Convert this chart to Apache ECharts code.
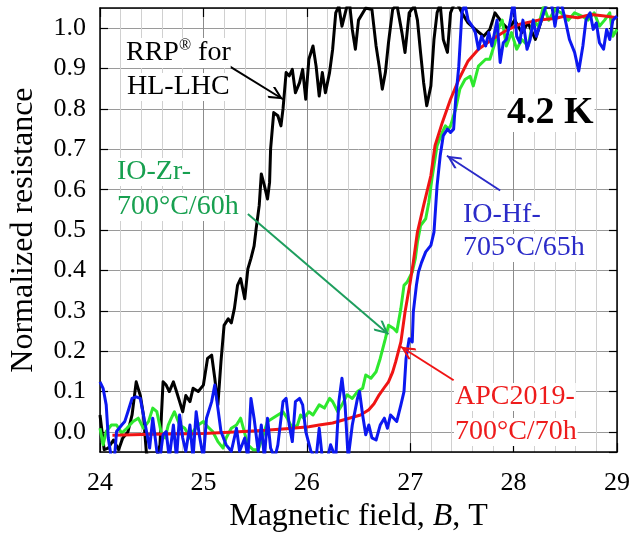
<!DOCTYPE html>
<html><head><meta charset="utf-8">
<script src="https://cdn.jsdelivr.net/npm/echarts@6/dist/echarts.min.js"></script>
<style>html,body{margin:0;padding:0;background:#fff}#c{width:633px;height:538px}</style>
</head><body><div id="c"></div>
<script>
// Magnetic field B (T), normalized resistance
const rrpB = [24.00,24.02,24.04,24.08,24.13,24.18,24.22,24.27,24.31,24.35,24.39,24.42,24.45,24.50,24.55,24.58,24.61,24.64,24.67,24.71,24.74,24.77,24.80,24.83,24.87,24.90,24.95,25.00,25.04,25.08,25.11,25.14,25.17,25.20,25.24,25.27,25.30,25.33,25.36,25.40,25.43,25.46,25.49,25.51,25.54,25.56,25.59,25.62,25.64,25.65,25.68,25.72,25.75,25.77,25.80,25.83,25.86,25.89,25.93,25.96,25.99,26.02,26.06,26.09,26.12,26.15,26.18,26.22,26.25,26.28,26.31,26.34,26.38,26.41,26.44,26.47,26.50,26.57,26.63,26.67,26.70,26.73,26.76,26.79,26.83,26.87,26.92,26.95,26.99,27.04,27.07,27.10,27.13,27.16,27.20,27.23,27.26,27.29,27.32,27.36,27.39,27.44,27.50,27.56,27.63,27.71,27.77,27.82,27.89,27.95,28.01,28.08,28.14,28.21,28.27,28.32];
const rrpR = [0.042,0.0,-0.044,-0.04,-0.02,-0.044,-0.015,0.0,0.042,0.124,0.09,0.042,-0.056,-0.06,-0.06,-0.032,0.124,0.116,0.1,0.124,0.1,0.075,0.05,0.09,0.075,0.108,0.1,0.116,0.182,0.19,0.133,0.067,0.174,0.264,0.28,0.27,0.306,0.363,0.38,0.33,0.404,0.43,0.46,0.503,0.561,0.639,0.61,0.577,0.618,0.701,0.791,0.783,0.758,0.8,0.89,0.882,0.898,0.84,0.865,0.898,0.824,0.923,0.956,0.906,0.832,0.89,0.84,0.89,0.948,1.038,1.055,1.005,1.046,1.07,0.997,0.948,1.02,1.05,1.046,0.956,0.906,0.849,0.89,0.964,1.046,1.06,0.989,0.94,1.038,1.055,1.02,0.94,0.865,0.808,0.857,0.972,1.038,1.06,0.972,0.94,1.038,1.07,1.038,1.013,0.997,0.98,0.997,1.038,1.013,0.997,1.02,0.989,1.013,0.972,1.02,1.07];

const zrB = [24.00,24.03,24.06,24.11,24.16,24.21,24.26,24.32,24.37,24.42,24.47,24.51,24.55,24.59,24.63,24.66,24.69,24.72,24.77,24.82,24.87,24.90,24.95,25.00,25.04,25.09,25.14,25.19,25.22,25.27,25.32,25.36,25.43,25.48,25.53,25.57,25.62,25.67,25.72,25.77,25.81,25.86,25.91,25.94,25.97,26.02,26.06,26.12,26.17,26.22,26.25,26.30,26.34,26.39,26.44,26.49,26.54,26.57,26.62,26.67,26.71,26.76,26.79,26.84,26.87,26.91,26.94,26.97,27.02,27.05,27.07,27.10,27.15,27.18,27.21,27.26,27.31,27.34,27.37,27.39,27.44,27.48,27.53,27.58,27.61,27.66,27.73,27.77,27.82,27.85,27.89,27.93,27.98,28.03,28.08,28.14,28.19,28.24,28.29,28.34,28.40,28.46,28.53,28.59,28.66,28.72,28.78,28.83,28.88,28.93,28.96,29.00];
const zrR = [0.009,-0.032,0.001,0.017,0.017,-0.003,0.009,0.026,0.034,0.009,0.026,0.059,0.05,0.001,-0.015,0.017,0.034,0.05,0.017,0.009,-0.015,0.001,0.017,0.026,0.013,0.001,-0.024,-0.04,-0.015,0.009,0.017,0.034,-0.032,-0.044,-0.044,-0.015,0.026,0.034,0.042,0.05,0.034,0.009,0.017,0.042,0.034,0.05,0.042,0.067,0.059,0.083,0.075,0.05,0.067,0.092,0.083,0.1,0.108,0.141,0.133,0.149,0.182,0.231,0.264,0.256,0.248,0.306,0.363,0.371,0.396,0.43,0.47,0.511,0.528,0.569,0.627,0.709,0.742,0.758,0.75,0.758,0.8,0.849,0.873,0.881,0.857,0.906,0.923,0.923,0.964,0.997,1.02,0.956,0.989,0.948,0.972,0.956,1.02,1.005,1.055,1.02,1.046,1.038,1.02,1.038,1.03,1.02,1.038,1.005,1.02,1.038,0.98,0.997];

const apcB = [24.12,24.5,25.0,25.3,25.6,25.8,26.02,26.12,26.25,26.41,26.52,26.60,26.65,26.70,26.75,26.79,26.83,26.86,26.91,26.95,27.00,27.03,27.07,27.13,27.20,27.24,27.31,27.39,27.47,27.56,27.66,27.79,27.92,28.05,28.24,28.40,28.50,28.62,28.75,28.88,29.00];
const apcR = [-0.008,-0.006,-0.004,0.0,0.004,0.008,0.013,0.017,0.022,0.034,0.042,0.055,0.07,0.092,0.11,0.124,0.148,0.174,0.223,0.297,0.371,0.42,0.495,0.561,0.635,0.709,0.766,0.824,0.873,0.919,0.948,0.972,0.993,1.009,1.02,1.024,1.03,1.026,1.034,1.03,1.026];

const hfB = [24.00,24.03,24.06,24.08,24.11,24.14,24.16,24.21,24.24,24.27,24.31,24.35,24.39,24.42,24.45,24.48,24.51,24.55,24.58,24.61,24.64,24.67,24.71,24.74,24.77,24.80,24.83,24.87,24.90,24.93,24.96,25.00,25.03,25.08,25.11,25.14,25.17,25.22,25.27,25.32,25.35,25.40,25.43,25.46,25.49,25.53,25.56,25.59,25.62,25.65,25.69,25.72,25.77,25.80,25.83,25.86,25.89,25.93,25.96,25.99,26.04,26.09,26.12,26.15,26.20,26.23,26.28,26.31,26.34,26.37,26.40,26.44,26.49,26.51,26.54,26.57,26.60,26.63,26.67,26.71,26.75,26.78,26.81,26.84,26.87,26.91,26.94,26.96,26.99,27.02,27.03,27.06,27.08,27.11,27.15,27.20,27.23,27.26,27.29,27.32,27.36,27.39,27.42,27.44,27.47,27.50,27.53,27.56,27.60,27.63,27.66,27.69,27.73,27.76,27.79,27.84,27.87,27.90,27.93,27.97,28.00,28.03,28.06,28.09,28.13,28.16,28.19,28.22,28.26,28.30,28.34,28.37,28.40,28.43,28.46,28.50,28.54,28.59,28.63,28.67,28.70,28.74,28.77,28.80,28.83,28.87,28.90,28.93,28.96,29.00];
const hfR = [0.124,0.108,0.067,-0.015,-0.065,-0.065,0.001,0.017,0.026,0.05,0.083,0.087,0.083,0.042,0.001,-0.04,0.034,-0.048,-0.065,-0.007,0.001,-0.065,0.017,-0.065,0.042,-0.015,-0.048,0.017,-0.065,0.05,-0.007,-0.065,0.034,0.075,0.116,0.059,0.001,-0.032,-0.048,0.009,-0.048,-0.015,-0.065,0.083,0.034,-0.048,0.017,-0.065,0.034,-0.04,-0.065,-0.032,0.075,0.083,0.017,-0.024,0.075,0.083,0.067,0.001,-0.048,-0.065,0.009,-0.065,-0.065,-0.032,-0.065,0.075,0.133,0.067,-0.065,0.017,0.083,0.1,0.042,-0.007,0.017,-0.015,-0.02,0.017,0.034,0.009,0.042,0.034,0.026,0.067,0.1,0.182,0.231,0.223,0.297,0.363,0.396,0.42,0.446,0.462,0.495,0.61,0.684,0.734,0.75,0.742,0.75,0.824,0.906,1.038,1.06,1.02,1.005,0.989,0.948,0.98,0.956,0.989,0.956,1.02,0.915,0.964,0.972,1.02,1.07,0.98,0.964,1.02,0.948,0.972,1.02,0.98,1.013,1.046,1.07,1.055,1.005,1.055,1.063,1.02,0.972,0.94,0.894,0.956,1.02,1.038,0.997,1.013,0.964,0.948,0.997,0.972,1.02,1.03];

// annotation arrows: [fromB, fromR, toB, toR]
const arrowRRP = [25.25, 0.906, 25.77, 0.824];
const arrowZr  = [25.43, 0.540, 26.79, 0.242];
const arrowHf  = [27.87, 0.598, 27.355, 0.684];
const arrowAPC = [27.42, 0.128, 26.91, 0.211];

const zip = (a, b) => a.map((v, i) => [v, b[i]]);
const FONT = '"Liberation Serif", "Times New Roman", serif';
const chevron = 'path://M0,0 L10,13 L8,15 L0,4.5 L-8,15 L-10,13 Z';

function arrow(a, color) {
  return {
    silent: true, animation: false,
    symbol: ['none', chevron], symbolSize: [13, 15], symbolOffset: [0, [0, 7.5]],
    label: {show: false},
    lineStyle: {color: color, width: 2, type: 'solid'},
    emphasis: {disabled: true},
    data: [[{coord: [a[0], a[1]]}, {coord: [a[2], a[3]]}]]
  };
}

function lineSeries(name, data, color, mk) {
  return {
    name: name, type: 'line', data: data, showSymbol: false, symbol: 'none',
    lineStyle: {color: color, width: 3, join: 'round'}, itemStyle: {color: color},
    clip: true, animation: false, silent: true, markLine: mk
  };
}

const chart = echarts.init(document.getElementById('c'), null, {renderer: 'canvas'});
const axisCommonY = {
  type: 'value', min: -0.05, max: 1.05, splitNumber: 11,
  axisLine: {show: true, onZero: false, lineStyle: {color: '#000', width: 1.5}},
  axisTick: {show: true, inside: true, length: 8, lineStyle: {color: '#000', width: 1.2}},
};
const axisCommonX = {
  type: 'value', min: 24, max: 29, interval: 1,
  axisLine: {show: true, onZero: false, lineStyle: {color: '#000', width: 1.5}},
  axisTick: {show: true, inside: true, length: 9, lineStyle: {color: '#000', width: 1.2}},
};

function txt(text, x, y, color, size, weight) {
  return {
    type: 'text', x: x, y: y, z: 50,
    style: {
      text: text, fill: color, font: (weight || 'normal') + ' ' + size + 'px ' + FONT,
      verticalAlign: 'middle', align: 'left', backgroundColor: '#fff', padding: [0, 1]
    }
  };
}

chart.setOption({
  animation: false,
  backgroundColor: '#fff',
  grid: {left: 100, right: 14, top: 8, bottom: 84, containLabel: false},
  xAxis: [
    Object.assign({}, axisCommonX, {
      position: 'bottom',
      name: 'Magnetic field, {i|B}, T', nameLocation: 'middle', nameGap: 46,
      nameTextStyle: {fontFamily: FONT, fontSize: 32, color: '#000',
        rich: {i: {fontFamily: FONT, fontSize: 32, fontStyle: 'italic', color: '#000'}}},
      axisLabel: {show: true, margin: 18, fontFamily: FONT, fontSize: 26, color: '#000'},
      splitLine: {show: true, lineStyle: {color: '#8c8c8c', width: 1}},
      minorTick: {show: false, splitNumber: 5},
      minorSplitLine: {show: true, lineStyle: {color: '#d0d0d0', width: 1}}
    }),
    Object.assign({}, axisCommonX, {
      position: 'top', axisLabel: {show: false}, splitLine: {show: false}
    })
  ],
  yAxis: [
    Object.assign({}, axisCommonY, {
      position: 'left',
      name: 'Normalized resistance', nameLocation: 'middle', nameGap: 60, nameRotate: 90,
      nameTextStyle: {fontFamily: FONT, fontSize: 32, color: '#000'},
      axisLabel: {show: true, margin: 14, fontFamily: FONT, fontSize: 26, color: '#000',
        showMinLabel: false, showMaxLabel: false,
        formatter: v => (Math.abs(v) < 1e-9 ? 0 : v).toFixed(1)},
      splitLine: {show: true, lineStyle: {color: '#9a9a9a', width: 1}}
    }),
    Object.assign({}, axisCommonY, {
      position: 'right', axisLabel: {show: false}, splitLine: {show: false}
    })
  ],
  series: [
    lineSeries('RRP', zip(rrpB, rrpR), '#000000', arrow(arrowRRP, '#000000')),
    lineSeries('IO-Zr', zip(zrB, zrR), '#2ee82e', arrow(arrowZr, '#1e9e5e')),
    lineSeries('APC2019', zip(apcB, apcR), '#f01414', arrow(arrowAPC, '#f01414')),
    lineSeries('IO-Hf', zip(hfB, hfR), '#0c18f0', arrow(arrowHf, '#2a2ac8'))
  ],
  graphic: [
    {type: 'text', x: 126, y: 53, z: 50, style: {
      text: 'RRP{s|®} for', fill: '#000', font: '28px ' + FONT, verticalAlign: 'middle',
      backgroundColor: '#fff',
      rich: {s: {fontSize: 16, fontFamily: FONT, verticalAlign: 'top', lineHeight: 30, fill: '#000'}}}},
    txt('HL-LHC', 126, 87, '#000', 28),
    txt('IO-Zr-', 116, 172, '#18a050', 28),
    txt('700°C/60h', 116, 207, '#18a050', 28),
    txt('IO-Hf-', 462, 215, '#2b2bc8', 28),
    txt('705°C/65h', 462, 248, '#2b2bc8', 28),
    txt('APC2019-', 454, 397, '#ee1c1c', 28),
    txt('700°C/70h', 454, 432, '#ee1c1c', 28),
    txt('4.2 K', 506, 113, '#000', 38, 'bold')
  ]
});
</script></body></html>
